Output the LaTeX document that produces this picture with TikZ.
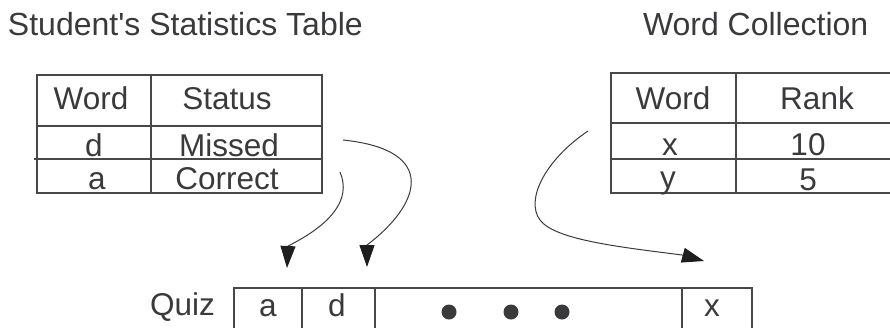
\documentclass[tikz,border=0pt]{standalone}
\usepackage{fontspec}
\setmainfont{Liberation Sans}
\usetikzlibrary{arrows.meta}
\definecolor{ink}{HTML}{3A3A3C}
\definecolor{rule}{HTML}{484848}
\definecolor{tip}{HTML}{1E1E1E}
\begin{document}
\begin{tikzpicture}[x=1pt,y=-1pt,
  cell/.style={draw=rule, line width=1.1pt, rectangle, inner sep=0pt, outer sep=0pt, anchor=north west},
  txt/.style={text=ink, inner sep=0pt, outer sep=0pt, anchor=base, font=\fontsize{31.5}{36}\selectfont},
  title/.style={txt, anchor=base west, font=\fontsize{32}{38}\selectfont},
  link/.style={draw=ink, line width=1pt, -{Triangle[length=22pt,width=15pt,color=tip]}},
  dotmark/.style={circle, fill=ink, inner sep=0pt, minimum width=15pt, minimum height=15pt}]
\useasboundingbox (0,0) rectangle (890,327);

% titles
\node[title] (ttlstats) at (8,35) {Student\textquotesingle s Statistics Table};
\node[title] (ttlwords) at (643,35) {Word Collection};

% student's statistics table
\node[cell, minimum width=114pt, minimum height=51pt] (s11) at (37,75) {};
\node[cell, minimum width=171pt, minimum height=51pt] (s12) at (151,75) {};
\node[cell, minimum width=114pt, minimum height=33pt] (s21) at (37,126) {};
\node[cell, minimum width=171pt, minimum height=33pt] (s22) at (151,126) {};
\node[cell, minimum width=114pt, minimum height=34pt] (s31) at (37,159) {};
\node[cell, minimum width=171pt, minimum height=34pt] (s32) at (151,159) {};
\coordinate (sepL) at (34,159);
\draw[draw=rule, line width=1.1pt] (sepL) -- (s32.north east);

\node[txt] (tW1) at (91,109) {Word};
\node[txt] (tSt) at (227,109) {Status};
\node[txt] (td1) at (94,156) {d};
\node[txt] (tMi) at (229,156) {Missed};
\node[txt] (ta1) at (97,189) {a};
\node[txt] (tCo) at (227,189) {Correct};

% word collection table
\node[cell, minimum width=125pt, minimum height=50pt] (w11) at (611,73) {};
\node[cell, minimum width=162pt, minimum height=50pt] (w12) at (736,73) {};
\node[cell, minimum width=125pt, minimum height=36pt] (w21) at (611,123) {};
\node[cell, minimum width=162pt, minimum height=36pt] (w22) at (736,123) {};
\node[cell, minimum width=125pt, minimum height=34pt] (w31) at (611,159) {};
\node[cell, minimum width=162pt, minimum height=34pt] (w32) at (736,159) {};

\node[txt] (tW2) at (673,109) {Word};
\node[txt] (tRk) at (817,109) {Rank};
\node[txt] (tx2) at (670,155) {x};
\node[txt] (t10) at (808,155) {10};
\node[txt] (ty2) at (668,188) {y};
\node[txt] (t05) at (808,190) {5};

% quiz row
\node[txt, anchor=base west] (tQz) at (150,315) {Quiz};
\node[cell, minimum width=68pt, minimum height=60pt] (q1) at (234,288) {};
\node[cell, minimum width=73pt, minimum height=60pt] (q2) at (302,288) {};
\node[cell, minimum width=307pt, minimum height=60pt] (q3) at (375,288) {};
\node[cell, minimum width=70pt, minimum height=60pt] (q4) at (682,288) {};
\node[txt] (tqa) at (268,316) {a};
\node[txt] (tqd) at (337,316) {d};
\node[txt] (tqx) at (712,316) {x};
\node[dotmark] (dot1) at (449,312) {};
\node[dotmark] (dot2) at (511,312) {};
\node[dotmark] (dot3) at (562,312) {};

% connectors
\coordinate (fromCorrect) at (340,172);
\coordinate (toA) at (287,268);
\coordinate (fromMissed) at (343,140);
\coordinate (toD) at (367,267);
\coordinate (fromX) at (588,131);
\coordinate (toX) at (704,261);

\draw[link] (fromCorrect) .. controls (352,200) and (330,225) .. (288,246) -- (toA);
\draw[link] (fromMissed) .. controls (440,150) and (420,205) .. (367,245) -- (toD);
\draw[link] (fromX) .. controls (545,160) and (525,200) .. (540,220)
  .. controls (555,240) and (620,247) .. (682,255) -- (toX);
\end{tikzpicture}
\end{document}
